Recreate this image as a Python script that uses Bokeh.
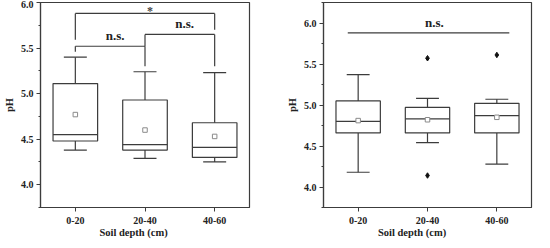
from bokeh.plotting import figure
from bokeh.layouts import row, column
from bokeh.models import FixedTicker, PrintfTickFormatter, Div
from bokeh.core.properties import value
from bokeh.embed import file_html
from bokeh.resources import INLINE

# ---------------- data ----------------
depth = ["0-20", "20-40", "40-60"]
x_title = "Soil depth (cm)"
y_title = "pH"

# left panel
a_upper = [5.40, 5.24, 5.23]
a_q3 = [5.11, 4.93, 4.68]
a_median = [4.55, 4.44, 4.41]
a_q1 = [4.48, 4.38, 4.30]
a_lower = [4.38, 4.29, 4.25]
a_mean = [4.77, 4.60, 4.53]
# significance brackets (group index pairs, bar level, leg ends, label)
a_sig_from = [0, 1, 0]
a_sig_to = [1, 2, 2]
a_sig_bar = [5.52, 5.65, 5.88]
a_sig_leg_from = [5.46, 5.52, 5.59]
a_sig_leg_to = [5.30, 5.30, 5.70]
a_sig_label = ["n.s.", "n.s.", "*"]

# right panel
b_upper = [5.37, 5.08, 5.07]
b_q3 = [5.05, 4.97, 5.02]
b_median = [4.80, 4.83, 4.87]
b_q1 = [4.66, 4.66, 4.66]
b_lower = [4.18, 4.54, 4.28]
b_mean = [4.81, 4.82, 4.85]
b_out_group = ["20-40", "20-40", "40-60"]
b_out_value = [5.57, 4.14, 5.61]
b_sig_level = 5.88
b_sig_label = "n.s."

y_major = [4.0, 4.5, 5.0, 5.5, 6.0]
y_minor = [3.75, 4.25, 4.75, 5.25, 5.75, 6.25]

# ---------------- style ----------------
FONT = "Liberation Serif"
LC = "#3c3c3c"
TC = "#222222"
LW = 1.2
BOX_W = 0.64
CAP_W = 0.33
FIG_W = 267
FIG_H = 226
TITLE_H = 14


def base_fig(y_lo, y_hi, mb_left, mb_right):
    p = figure(width=FIG_W, height=FIG_H, x_range=(0.5, 3.5), y_range=(y_lo, y_hi),
               output_backend="svg", toolbar_location=None,
               min_border_left=mb_left, min_border_right=mb_right,
               min_border_top=2, min_border_bottom=8)
    p.grid.visible = False
    p.outline_line_color = LC
    p.outline_line_width = LW
    p.background_fill_color = "white"
    p.border_fill_color = "white"

    xs = list(range(1, len(depth) + 1))
    p.xaxis.ticker = FixedTicker(ticks=xs, minor_ticks=[])
    p.xaxis.major_label_overrides = {x: d for x, d in zip(xs, depth)}
    p.yaxis.ticker = FixedTicker(ticks=y_major, minor_ticks=y_minor)
    p.yaxis.formatter = PrintfTickFormatter(format="%.1f")
    p.yaxis.axis_label = y_title
    for ax in (p.xaxis[0], p.yaxis[0]):
        ax.axis_line_color = LC
        ax.axis_line_width = LW
        ax.major_tick_line_color = LC
        ax.minor_tick_line_color = LC
        ax.major_tick_in = 0
        ax.major_tick_out = 4
        ax.minor_tick_in = 0
        ax.minor_tick_out = 2
        ax.major_label_text_font = FONT
        ax.major_label_text_font_style = "bold"
        ax.major_label_text_font_size = "10px"
        ax.major_label_text_color = TC
        ax.axis_label_text_font = FONT
        ax.axis_label_text_font_style = "bold"
        ax.axis_label_text_font_size = "10.5px"
        ax.axis_label_text_color = TC
    p.xaxis.major_label_standoff = 5
    p.yaxis.major_label_standoff = 3
    p.yaxis.axis_label_standoff = 3
    return p


def title_div(pad_left):
    return Div(text=x_title, width=FIG_W, height=TITLE_H, margin=(0, 0, 0, 0),
               styles={"font-family": FONT, "font-weight": "bold", "font-size": "10.5px",
                       "color": TC, "text-align": "center", "line-height": f"{TITLE_H}px",
                       "padding-left": f"{pad_left}px", "box-sizing": "border-box"})


def draw_boxes(p, upper, q3, med, q1, lower, mean):
    xs = list(range(1, len(depth) + 1))
    p.quad(left=[x - BOX_W / 2 for x in xs], right=[x + BOX_W / 2 for x in xs],
           top=q3, bottom=q1, fill_color=None, line_color=LC, line_width=LW)
    p.segment(x0=[x - BOX_W / 2 for x in xs], x1=[x + BOX_W / 2 for x in xs],
              y0=med, y1=med, line_color=LC, line_width=LW)
    p.segment(x0=xs, x1=xs, y0=q3, y1=upper, line_color=LC, line_width=LW)
    p.segment(x0=xs, x1=xs, y0=q1, y1=lower, line_color=LC, line_width=LW)
    p.segment(x0=[x - CAP_W / 2 for x in xs], x1=[x + CAP_W / 2 for x in xs],
              y0=upper, y1=upper, line_color=LC, line_width=LW)
    p.segment(x0=[x - CAP_W / 2 for x in xs], x1=[x + CAP_W / 2 for x in xs],
              y0=lower, y1=lower, line_color=LC, line_width=LW)
    p.scatter(x=xs, y=mean, marker="square", size=4.5, fill_color="white",
              line_color="#8a8a8a", line_width=1)


# ---------------- left panel ----------------
p1 = base_fig(3.75, 6.0, 0, 18)
draw_boxes(p1, a_upper, a_q3, a_median, a_q1, a_lower, a_mean)
x_from = [i + 1 for i in a_sig_from]
x_to = [j + 1 for j in a_sig_to]
p1.segment(x0=x_from, x1=x_to, y0=a_sig_bar, y1=a_sig_bar, line_color=LC, line_width=LW)
p1.segment(x0=x_from, x1=x_from, y0=a_sig_bar, y1=a_sig_leg_from, line_color=LC, line_width=LW)
p1.segment(x0=x_to, x1=x_to, y0=a_sig_bar, y1=a_sig_leg_to, line_color=LC, line_width=LW)
ns_idx = [k for k, s in enumerate(a_sig_label) if s != "*"]
st_idx = [k for k, s in enumerate(a_sig_label) if s == "*"]
mid_x = [(a + b) / 2 + 0.07 for a, b in zip(x_from, x_to)]
p1.text(x=[mid_x[k] for k in ns_idx], y=[a_sig_bar[k] + 0.035 for k in ns_idx],
        text=[a_sig_label[k] for k in ns_idx], text_align="center",
        text_baseline="bottom", text_font=value(FONT), text_font_style="bold",
        text_font_size="13px", text_color=TC)
p1.text(x=[mid_x[k] for k in st_idx], y=[a_sig_bar[k] + 0.03 for k in st_idx],
        text=[a_sig_label[k] for k in st_idx], text_align="center",
        text_baseline="middle", text_font=value(FONT), text_font_style="bold",
        text_font_size="12px", text_color="#444444")

# ---------------- right panel ----------------
p2 = base_fig(3.75, 6.25, 56, 3)
draw_boxes(p2, b_upper, b_q3, b_median, b_q1, b_lower, b_mean)
out_x = [depth.index(g) + 1 for g in b_out_group]
p2.scatter(x=out_x, y=b_out_value, marker="diamond", size=5.5, color="#111111")
p2.segment(x0=[0.85], x1=[3.18], y0=[b_sig_level], y1=[b_sig_level],
           line_color=LC, line_width=LW)
p2.text(x=[2.1], y=[b_sig_level + 0.04], text=[b_sig_label], text_align="center",
        text_baseline="bottom", text_font=value(FONT), text_font_style="bold",
        text_font_size="13px", text_color=TC)

layout = row(column(p1, title_div(0)), column(p2, title_div(23)))
open("out.html", "w").write(file_html(layout, INLINE))
